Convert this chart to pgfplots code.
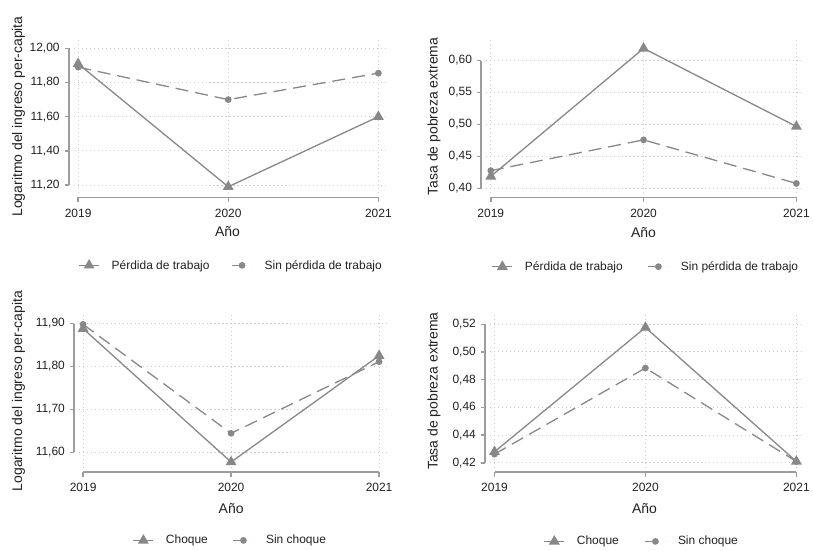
\documentclass[border=0pt]{standalone}
\usepackage{fontspec}
\setmainfont{Liberation Sans}
\usepackage{pgfplots}
\pgfplotsset{compat=1.18}

\definecolor{series}{HTML}{888888}
\definecolor{axisgray}{HTML}{9C9C9C}
\definecolor{gridgray}{HTML}{CFCFCF}
\definecolor{txt}{HTML}{222222}

\tikzset{axisline/.style={axisgray, line width=1.4bp}}

\pgfplotsset{
  panel/.style={
    scale only axis,
    anchor=south west,
    axis lines*=left,
    axis line style={draw=none},
    tick style={draw=none},
    major tick length=0pt,
    xtick={2019,2020,2021},
    xticklabels={2019,2020,2021},
    grid=major,
    grid style={gridgray, line width=1bp, dash pattern=on 1.2bp off 2.8bp},
    tick label style={font=\fontsize{12bp}{14bp}\selectfont, text=txt},
    label style={font=\fontsize{14bp}{16bp}\selectfont, text=txt},
    yticklabel style={/pgf/number format/fixed, /pgf/number format/fixed zerofill,
      /pgf/number format/precision=2, /pgf/number format/use comma},
    /pgf/number format/assume math mode=true,
    clip=false,
    legend columns=2,
    legend cell align=left,
    legend style={draw=none, fill=none, anchor=center,
      font=\fontsize{12bp}{14bp}\selectfont, text=txt,
      /tikz/every odd column/.append style={column sep=10bp}},
    legend image code/.code={\draw[mark repeat=2, mark phase=2, #1]
      plot coordinates {(0bp,0bp) (10bp,0bp) (20bp,0bp)};},
  },
  shock/.style={series, line width=1.3bp, mark=triangle*, mark size=5bp,
    mark options={fill=series, draw=series}},
  noshock/.style={series, line width=1.3bp, dash pattern=on 13bp off 7bp,
    mark=*, mark size=2.7bp, mark options={solid, fill=series, draw=series}},
}

\begin{document}
\begin{tikzpicture}
\fill[white] (0,0) rectangle (813bp,548bp);

% Top left: log per-capita income by job loss
\begin{axis}[panel, at={(74bp,354.5bp)}, width=315bp, height=153.5bp,
  xmin=2018.9714, xmax=2021.0645, ymin=11.1533, ymax=12.04964,
  ytick={11.2,11.4,11.6,11.8,12.0},
  xticklabel style={yshift=-12.5bp}, yticklabel style={xshift=-10.7bp},
  xlabel={Año}, ylabel={Logaritmo del ingreso per-capita},
  xlabel style={at={(axis description cs:0.489,-0.2508)}, anchor=center},
  ylabel style={at={(axis description cs:-0.1762,0.5)}, anchor=center},
  legend style={at={(0.5006,-0.4723)},
    /tikz/every even column/.append style={column sep=20bp}},
]
\addplot[shock] coordinates {(2019,11.91) (2020,11.19) (2021,11.60)};
\addlegendentry{Pérdida de trabajo}
\addplot[noshock] coordinates {(2019,11.89) (2020,11.70) (2021,11.855)};
\addlegendentry{Sin pérdida de trabajo}
% offset axis lines spanning the tick range
\draw[axisline] ([yshift=-9bp]axis cs:2019,11.1533) -- ++(0bp,4.5bp) -- ++(301bp,0bp) -- ++(0bp,-4.5bp);
\draw[axisline] ([yshift=-4.5bp]axis cs:2019,11.1533) -- ([yshift=-4.5bp]axis cs:2021,11.1533);
\pgfplotsinvokeforeach{2019,2020,2021}{
  \draw[axisline] ([yshift=-4.5bp]axis cs:#1,11.1533) -- ++(0bp,-4.5bp);}
\draw[axisline] ([xshift=-4.7bp]axis cs:2018.9714,11.2) -- ([xshift=-4.7bp]axis cs:2018.9714,12.0);
\pgfplotsinvokeforeach{11.2,11.4,11.6,11.8,12.0}{
  \draw[axisline] ([xshift=-4.7bp]axis cs:2018.9714,#1) -- ++(-4.5bp,0bp);}
\end{axis}

% Top right: extreme poverty rate by job loss
\begin{axis}[panel, at={(487bp,354.5bp)}, width=318bp, height=153.5bp,
  xmin=2018.9674, xmax=2021.04375, ymin=0.39299, ymax=0.63227,
  ytick={0.40,0.45,0.50,0.55,0.60},
  xticklabel style={yshift=-12.5bp}, yticklabel style={xshift=-10.3bp},
  xlabel={Año}, ylabel={Tasa de pobreza extrema},
  xlabel style={at={(axis description cs:0.497,-0.2593)}, anchor=center},
  ylabel style={at={(axis description cs:-0.1635,0.5)}, anchor=center},
  legend style={at={(0.5047,-0.4808)},
    /tikz/every even column/.append style={column sep=23bp}},
]
\addplot[shock] coordinates {(2019,0.419) (2020,0.619) (2021,0.497)};
\addlegendentry{Pérdida de trabajo}
\addplot[noshock] coordinates {(2019,0.428) (2020,0.476) (2021,0.408)};
\addlegendentry{Sin pérdida de trabajo}
\draw[axisline] ([yshift=-9bp]axis cs:2019,0.39299) -- ++(0bp,4.5bp) -- ++(306.3bp,0bp) -- ++(0bp,-4.5bp);
\draw[axisline] ([yshift=-4.5bp]axis cs:2019,0.39299) -- ([yshift=-4.5bp]axis cs:2021,0.39299);
\pgfplotsinvokeforeach{2019,2020,2021}{
  \draw[axisline] ([yshift=-4.5bp]axis cs:#1,0.39299) -- ++(0bp,-4.5bp);}
\draw[axisline] ([xshift=-4.7bp]axis cs:2018.9674,0.40) -- ([xshift=-4.7bp]axis cs:2018.9674,0.60);
\pgfplotsinvokeforeach{0.40,0.45,0.50,0.55,0.60}{
  \draw[axisline] ([xshift=-4.7bp]axis cs:2018.9674,#1) -- ++(-4.5bp,0bp);}
\end{axis}

% Bottom left: log per-capita income by shock
\begin{axis}[panel, at={(79bp,79bp)}, width=310.5bp, height=154bp,
  xmin=2018.971, xmax=2021.064, ymin=11.56349, ymax=11.92163,
  ytick={11.6,11.7,11.8,11.9},
  xticklabel style={yshift=-12bp}, yticklabel style={xshift=-10.5bp},
  xlabel={Año}, ylabel={Logaritmo del ingreso per-capita},
  xlabel style={at={(axis description cs:0.4918,-0.2617)}, anchor=center},
  ylabel style={at={(axis description cs:-0.1948,0.5)}, anchor=center},
  legend style={at={(0.4892,-0.4721)},
    /tikz/every even column/.append style={column sep=23bp}},
]
\addplot[shock] coordinates {(2019,11.888) (2020,11.577) (2021,11.825)};
\addlegendentry{Choque}
\addplot[noshock] coordinates {(2019,11.898) (2020,11.644) (2021,11.811)};
\addlegendentry{Sin choque}
\draw[axisline] ([yshift=-4.3bp]axis cs:2019,11.56349) -- ([yshift=-4.3bp]axis cs:2021,11.56349);
\pgfplotsinvokeforeach{2019,2020,2021}{
  \draw[axisline] ([yshift=-4.3bp]axis cs:#1,11.56349) -- ++(0bp,-4.5bp);}
\draw[axisline] ([xshift=-4.7bp]axis cs:2018.971,11.6) -- ([xshift=-4.7bp]axis cs:2018.971,11.9);
\pgfplotsinvokeforeach{11.6,11.7,11.8,11.9}{
  \draw[axisline] ([xshift=-4.7bp]axis cs:2018.971,#1) -- ++(-4.5bp,0bp);}
\end{axis}

% Bottom right: extreme poverty rate by shock
\begin{axis}[panel, at={(491bp,79bp)}, width=314bp, height=154bp,
  xmin=2018.9689, xmax=2021.0443, ymin=0.41640, ymax=0.52719,
  ytick={0.42,0.44,0.46,0.48,0.50,0.52},
  xticklabel style={yshift=-12bp}, yticklabel style={xshift=-10.5bp},
  xlabel={Año}, ylabel={Tasa de pobreza extrema},
  xlabel style={at={(axis description cs:0.4936,-0.2662)}, anchor=center},
  ylabel style={at={(axis description cs:-0.178,0.5)}, anchor=center},
  legend style={at={(0.4852,-0.4786)},
    /tikz/every even column/.append style={column sep=24bp}},
]
\addplot[shock] coordinates {(2019,0.428) (2020,0.5176) (2021,0.421)};
\addlegendentry{Choque}
\addplot[noshock] coordinates {(2019,0.4263) (2020,0.4884) (2021,0.421)};
\addlegendentry{Sin choque}
\draw[axisline] ([yshift=-4.3bp]axis cs:2019,0.41640) -- ([yshift=-4.3bp]axis cs:2021,0.41640);
\pgfplotsinvokeforeach{2019,2020,2021}{
  \draw[axisline] ([yshift=-4.3bp]axis cs:#1,0.41640) -- ++(0bp,-4.5bp);}
\draw[axisline] ([xshift=-4.7bp]axis cs:2018.9689,0.42) -- ([xshift=-4.7bp]axis cs:2018.9689,0.52);
\pgfplotsinvokeforeach{0.42,0.44,0.46,0.48,0.50,0.52}{
  \draw[axisline] ([xshift=-4.7bp]axis cs:2018.9689,#1) -- ++(-4.5bp,0bp);}
\end{axis}
\end{tikzpicture}
\end{document}
